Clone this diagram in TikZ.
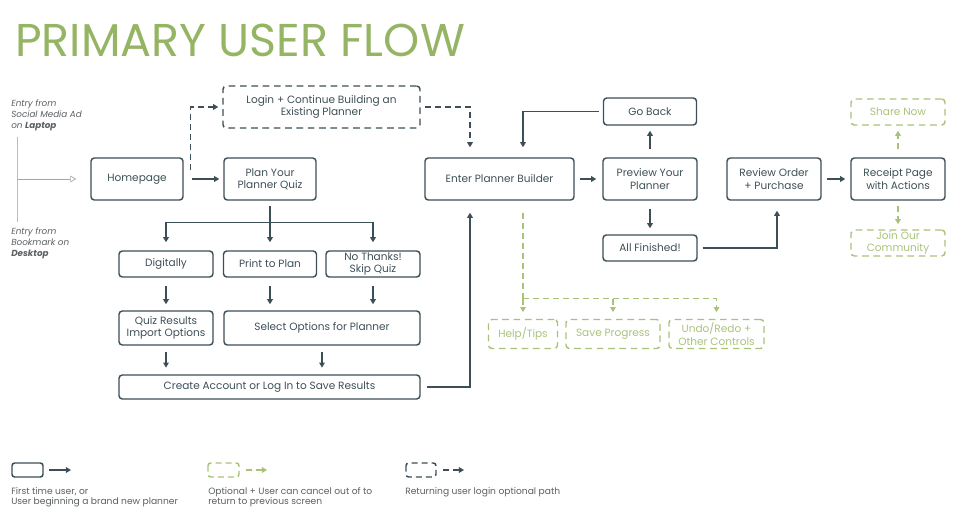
\documentclass[tikz,border=0pt]{standalone}
\usepackage{fontspec}
\setmainfont{Poppins}
\usetikzlibrary{arrows.meta}
\definecolor{dk}{HTML}{3D4F56}
\definecolor{gr}{HTML}{A9C27A}
\definecolor{ttl}{HTML}{95B564}
\definecolor{txg}{HTML}{5A5F61}
\definecolor{lgt}{HTML}{B8BDBF}
\begin{document}
\begin{tikzpicture}[x=0.75pt,y=-0.75pt,
  box/.style={draw=dk, line width=1.1pt, rounded corners=2.5pt, text=dk, align=center,
    font=\fontsize{7.9}{9.2}\selectfont, inner sep=0pt},
  dbox/.style={box, dash pattern=on 5pt off 3.5pt},
  gbox/.style={box, draw=gr, text=gr, dash pattern=on 5pt off 3.5pt},
  sz/.style 2 args={minimum width=#1, minimum height=#2},
  ln/.style={draw=dk, line width=1.1pt},
  ar/.style={ln, -{Triangle[length=3.8pt,width=4.2pt]}},
  dar/.style={ar, dash pattern=on 4.5pt off 3pt},
  gln/.style={draw=gr, line width=1.1pt, dash pattern=on 4.5pt off 3pt},
  gar/.style={gln, -{Triangle[length=3.8pt,width=4.2pt]}},
  note/.style={font=\fontsize{6.6}{7.9}\selectfont\itshape, text=txg, align=left, inner sep=0pt, anchor=north west},
  leg/.style={font=\fontsize{6.85}{8}\selectfont, text=txg, align=left, inner sep=0pt, anchor=north west}
]
\useasboundingbox (0,0) rectangle (970,530);

% title
\node[anchor=base west, inner sep=0pt, text=ttl, font=\fontsize{34.5}{34.5}\selectfont] (title) at (15,57) {PRIMARY USER FLOW};

% boxes
\node[box, sz={69pt}{31.5pt}] (home) at (137,179) {Homepage};
\node[box, sz={69pt}{31.5pt}] (quiz) at (270,179) {Plan Your\\Planner Quiz};
\node[dbox, sz={147.75pt}{31.5pt}] (login) at (321.5,107) {Login + Continue Building an\\Existing Planner};
\node[box, sz={70.5pt}{19.5pt}] (dig) at (166,264) {Digitally};
\node[box, sz={69.75pt}{19.5pt}] (print) at (270,264) {Print to Plan};
\node[box, sz={70.5pt}{19.5pt}] (skip) at (373,264) {No Thanks!\\Skip Quiz};
\node[box, sz={70.5pt}{25.5pt}] (qres) at (166,328) {Quiz Results\\Import Options};
\node[box, sz={147pt}{25.5pt}] (sel) at (322,328) {Select Options for Planner};
\node[box, sz={225.75pt}{18pt}] (create) at (269.5,387) {Create Account or Log In to Save Results};
\node[box, sz={111.75pt}{31.5pt}] (enter) at (499.5,179) {Enter Planner Builder};
\node[box, sz={69.75pt}{20.25pt}] (goback) at (650,111.5) {Go Back};
\node[box, sz={70.5pt}{31.5pt}] (prev) at (650,179) {Preview Your\\Planner};
\node[box, sz={70.5pt}{19.5pt}] (fin) at (650,248) {All Finished!};
\node[box, sz={70.5pt}{31.5pt}] (review) at (774,179) {Review Order\\+ Purchase};
\node[box, sz={70.5pt}{31.5pt}] (receipt) at (898,179) {Receipt Page\\with Actions};
\node[gbox, sz={70.5pt}{19.5pt}] (share) at (898,112) {Share Now};
\node[gbox, sz={70.5pt}{19.5pt}] (join) at (898,243) {Join Our\\Community};
\node[gbox, sz={51.75pt}{21.75pt}] (help) at (523,334) {Help/Tips};
\node[gbox, sz={70.5pt}{21.75pt}] (save) at (613,334) {Save Progress};
\node[gbox, sz={71.25pt}{21.75pt}] (undo) at (716.5,334) {Undo/Redo +\\Other Controls};

% helper coordinates
\path (home.east) ++(7,-9) coordinate (hd);
\path (enter.north) ++(-29.5,0) coordinate (eLn);
\path (enter.south) ++(-29.5,0) coordinate (eLs);
\path (enter.north) ++(23.5,0) coordinate (eRn);
\path (enter.south) ++(23.5,0) coordinate (eRs);
\path (eRs) ++(0,98) coordinate (hs);
\path (quiz.south) ++(0,22) coordinate (split);
\path (review.south) ++(3,0) coordinate (rvs);

% entry
\draw[lgt, line width=0.6pt] (17,137) coordinate (entryTop) -- (17,222) coordinate (entryBot);
\coordinate (entry) at (17,179);
\draw[lgt!80!dk, line width=0.5pt, -{Triangle[open,length=4.5pt,width=5pt]}, shorten >=10.5pt] (entry) -- (home.west);
\node[note] (n1) at (11,100) {Entry from\\Social Media Ad\\on \textbf{Laptop}};
\node[note] (n2) at (11,228) {Entry from\\Bookmark on\\\textbf{Desktop}};

% connectors
\draw[ar, shorten <=6pt, shorten >=3pt] (home) -- (quiz);
\draw[dar, shorten >=3pt] (hd) |- (login.west);
\draw[dar, shorten <=3pt, shorten >=7.5pt] (login.east) -| (eLn);
\draw[ln, shorten <=3.75pt] (quiz.south) -- (split);
\draw[ar, shorten >=6pt] (split) -| (dig.north);
\draw[ar, shorten >=6pt] (split) -| (skip.north);
\draw[ar, shorten >=6pt] (split) -- (print.north);
\draw[ar, shorten <=6pt, shorten >=4.5pt] (dig.south) -- (qres.north);
\draw[ar, shorten <=6pt, shorten >=4.5pt] (print.south) -- (print.south |- sel.north);
\draw[ar, shorten <=6pt, shorten >=4.5pt] (skip.south) -- (skip.south |- sel.north);
\draw[ar, shorten <=4.5pt, shorten >=5pt] (qres.south) -- (create.north -| qres.south);
\draw[ar, shorten <=4.5pt, shorten >=5pt] (sel.south) -- (sel.south |- create.north);
\draw[ar, shorten <=4.5pt, shorten >=9pt] (create.east) -| (eLs);
\draw[ar, shorten <=3.75pt, shorten >=4.5pt] (enter) -- (prev);
\draw[ar, shorten <=6pt, shorten >=3.75pt] (prev.north) -- (goback.south);
\draw[ar, shorten <=3pt, shorten >=7.5pt] (goback.west) -| (eRn);
\draw[ar, shorten <=6pt, shorten >=4.5pt] (prev.south) -- (fin.north);
\draw[ar, shorten <=3.75pt, shorten >=7.5pt] (fin.east) -| (rvs);
\draw[ar, shorten <=3.75pt, shorten >=3.75pt] (review) -- (receipt);
\draw[gar, shorten <=6pt, shorten >=3.75pt] (receipt.north) -- (share.south);
\draw[gar, shorten <=3.75pt, shorten >=3.75pt] (receipt.south) -- (join.north);
\draw[gln, shorten <=9pt] (eRs) -- (hs);
\draw[gar, shorten >=5pt] (hs) -- (help.north);
\draw[gar, shorten >=5pt] (hs) -| (save.north);
\draw[gar, shorten >=5pt] (hs) -| (undo.north);

% legend
\draw[dk, line width=1.1pt, rounded corners=2pt] (12,463) rectangle (43,477);
\coordinate (la1) at (49,470); \coordinate (la2) at (71,470);
\draw[ar] (la1) -- (la2);
\draw[gr, line width=1.1pt, rounded corners=2pt, dash pattern=on 4.5pt off 3pt] (208,463) rectangle (239,477);
\coordinate (lb1) at (246,470); \coordinate (lb2) at (267,470);
\draw[gar, fill=gr] (lb1) -- (lb2);
\draw[dk, line width=1.1pt, rounded corners=2pt, dash pattern=on 4.5pt off 3pt] (406,463) rectangle (436,477);
\coordinate (lc1) at (443,470); \coordinate (lc2) at (464,470);
\draw[dar] (lc1) -- (lc2);
\node[leg] (l1) at (11,487) {First time user, or\\User beginning a brand new planner};
\node[leg] (l2) at (208,487) {Optional + User can cancel out of to\\return to previous screen};
\node[leg] (l3) at (405,487) {Returning user login optional path};
\end{tikzpicture}
\end{document}
